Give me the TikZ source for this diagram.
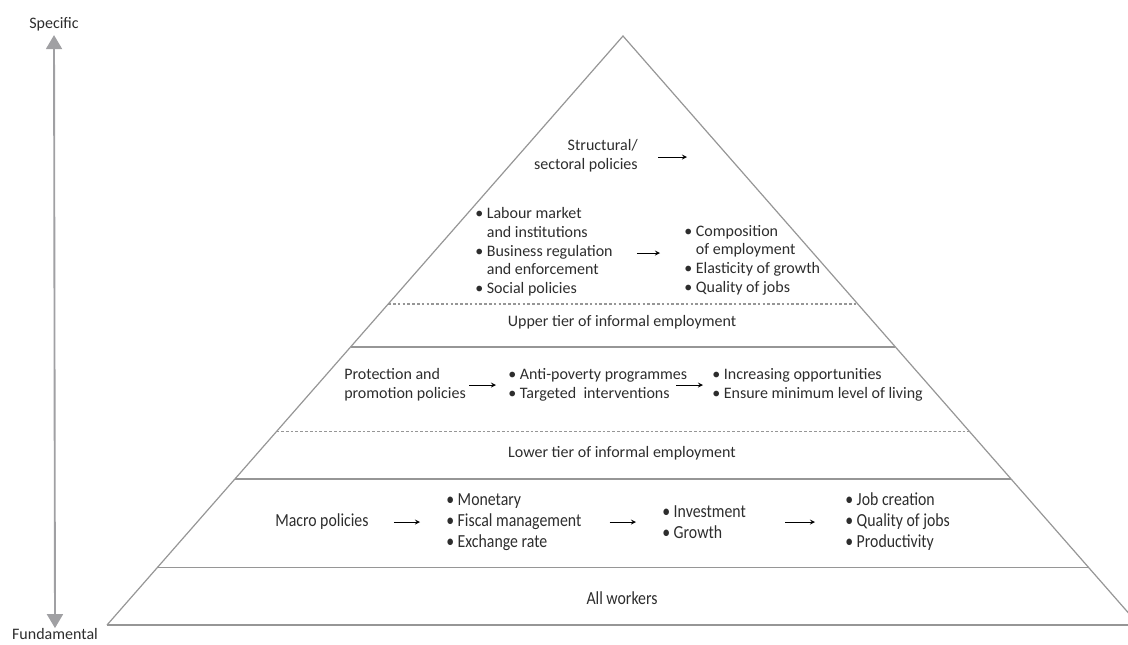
\documentclass[tikz,border=0pt]{standalone}
\usepackage{fontspec}
\setmainfont{Carlito}
\newfontfamily\narrowfont[FakeStretch=0.86]{Carlito}
\usetikzlibrary{calc,arrows,arrows.meta}
\definecolor{linegray}{RGB}{150,150,150}
\definecolor{axisgray}{RGB}{160,160,163}
\definecolor{textgray}{RGB}{45,45,45}

\begin{document}
\begin{tikzpicture}[x=0.75pt, y=-0.75pt, >=stealth,
  txt/.style={inner sep=0pt, text=textgray, font=\fontsize{12}{14}\selectfont},
  lst/.style={txt, align=left, anchor=west},
  nar/.style={lst, font=\fontsize{13.8}{15.75}\narrowfont},
  band/.style={draw=linegray, line width=0.9pt},
  tier/.style={draw=linegray, line width=0.9pt, dash pattern=on 2pt off 1.6pt},
  flow/.style={->, black, line width=0.7pt},
  axis/.style={draw=axisgray, line width=1.4pt, {Triangle[length=10.5pt,width=12pt]}-{Triangle[length=10.5pt,width=12pt]}}]
  \clip (0,0) rectangle (1128,644);
  % Piramide
  \coordinate (apex) at (623,36);
  \coordinate (bl) at (107,625);
  \coordinate (br) at (1139,625);
  \draw[band] (bl) -- (apex) -- (br);
  \draw[band] (bl) -- (br);
  \foreach \t in {0.528,0.752,0.903}
    \draw[band] ($(apex)!\t!(bl)$) -- ($(apex)!\t!(br)$);
  \foreach \t in {0.455,0.672}
    \draw[tier] ($(apex)!\t!(bl)$) -- ($(apex)!\t!(br)$);
  % Eixo
  \node[txt] (spec) at (54,24) {Specific};
  \node[txt] (fund) at (55,634) {Fundamental};
  \draw[axis, shorten <=0pt, shorten >=3pt] (fund) -- (spec);
  % Nodes
  \node[txt, align=right, anchor=east] (struct) at (638,156) {Structural/\\sectoral policies};
  \coordinate (structend) at (687,157);
  \node[lst] (labour) at (475,252) {• Labour market\\\hphantom{• }and institutions\\• Business regulation\\\hphantom{• }and enforcement\\• Social policies};
  \node[lst] (compo) at (684,260) {• Composition\\\hphantom{• }of employment\\• Elasticity of growth\\• Quality of jobs};
  \node[txt] (upper) at (622,322) {Upper tier of informal employment};
  \node[lst] (protect) at (344,385) {Protection and\\promotion policies};
  \node[lst] (antipov) at (508,385) {• Anti-poverty programmes\\• Targeted\ \ interventions};
  \node[lst] (increase) at (712,385) {• Increasing opportunities\\• Ensure minimum level of living};
  \node[txt] (lower) at (622,453) {Lower tier of informal employment};
  \node[nar] (macro) at (275,522) {Macro policies};
  \node[nar] (monetary) at (446,522) {• Monetary\\• Fiscal management\\• Exchange rate};
  \node[nar] (invest) at (662,522) {• Investment\\• Growth};
  \node[nar] (jobs) at (845,522) {• Job creation\\• Quality of jobs\\• Productivity};
  \node[txt, font=\fontsize{13.8}{15.75}\narrowfont] (all) at (622,598) {All workers};
  % Setas
  \draw[flow, shorten <=15pt] (struct.east |- structend) -- (structend);
  \draw[flow] ($(labour.east)+(24,1)$) -- ($(compo.west |- labour.east)+(-24,1)$);
  \draw[flow] ($(protect.east)+(3,0)$) -- ($(antipov.west)+(-12,0)$);
  \draw[flow] ($(antipov.east)+(-11,0)$) -- ($(increase.west)+(-9,0)$);
  \draw[flow] ($(macro.east)+(25,0)$) -- ($(monetary.west)+(-26,0)$);
  \draw[flow] ($(monetary.east)+(28,0)$) -- ($(invest.west |- monetary.east)+(-26,0)$);
  \draw[flow] ($(invest.east)+(39,0)$) -- ($(jobs.west)+(-30,0)$);
\end{tikzpicture}
\end{document}
